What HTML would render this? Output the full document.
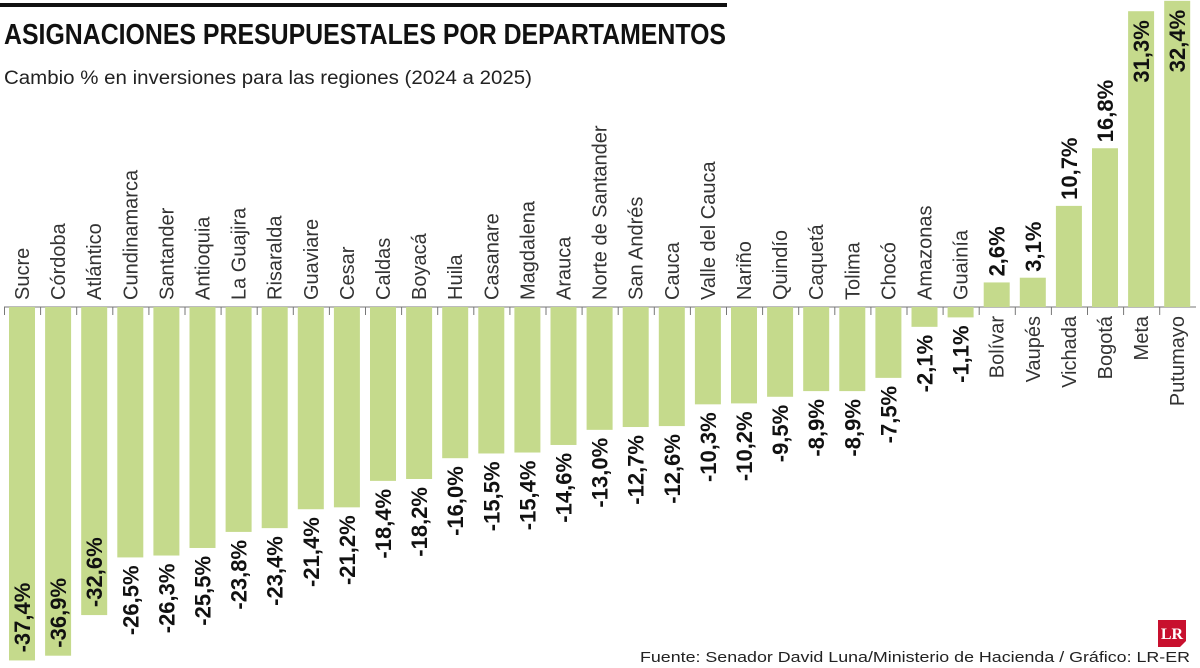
<!DOCTYPE html>
<html><head><meta charset="utf-8"><style>
html,body{margin:0;padding:0;background:#fff;}
svg{display:block;font-family:"Liberation Sans",sans-serif;}
</style></head><body>
<svg id="chart" width="1200" height="668" viewBox="0 0 1200 668">
  <rect x="0" y="3" width="727" height="4" fill="#111"/>
  <text x="4" y="44" font-size="29" font-weight="bold" fill="#111" textLength="722" lengthAdjust="spacingAndGlyphs">ASIGNACIONES PRESUPUESTALES POR DEPARTAMENTOS</text>
  <text x="4" y="84" font-size="19" fill="#222" textLength="528" lengthAdjust="spacingAndGlyphs">Cambio % en inversiones para las regiones (2024 a 2025)</text>
  <g id="plot"></g>
  <text x="1190" y="662" font-size="15" fill="#222" text-anchor="end" textLength="550" lengthAdjust="spacingAndGlyphs">Fuente: Senador David Luna/Ministerio de Hacienda / Gráfico: LR-ER</text>
  <g>
    <path d="M1158 620 h28 v21 l-6 6 h-22 z" fill="#c8102e"/>
    <text x="1172" y="639" font-size="16" font-weight="bold" fill="#fff" text-anchor="middle" font-family="Liberation Serif, serif">LR</text>
  </g>
</svg>
<script>
const departments = ["Sucre","Córdoba","Atlántico","Cundinamarca","Santander","Antioquia","La Guajira","Risaralda","Guaviare","Cesar","Caldas","Boyacá","Huila","Casanare","Magdalena","Arauca","Norte de Santander","San Andrés","Cauca","Valle del Cauca","Nariño","Quindío","Caquetá","Tolima","Chocó","Amazonas","Guainía","Bolívar","Vaupés","Vichada","Bogotá","Meta","Putumayo"];
const changes = [-37.4,-36.9,-32.6,-26.5,-26.3,-25.5,-23.8,-23.4,-21.4,-21.2,-18.4,-18.2,-16.0,-15.5,-15.4,-14.6,-13.0,-12.7,-12.6,-10.3,-10.2,-9.5,-8.9,-8.9,-7.5,-2.1,-1.1,2.6,3.1,10.7,16.8,31.3,32.4];
const valueLabels = changes.map(v => v.toFixed(1).replace('.', ',') + '%');

const NS = "http://www.w3.org/2000/svg";
const plot = document.getElementById('plot');
const baseY = 307, pxPerUnit = 9.45, step = 36.1, x0 = 9, barW = 26;
function xPos(i){ return x0 + i*step; }
function yPos(v){ return baseY - v*pxPerUnit; }
function mk(tag, attrs){ const e=document.createElementNS(NS,tag); for(const k in attrs) e.setAttribute(k,attrs[k]); plot.appendChild(e); return e; }

const axis = mk('line',{x1:4,x2:1196,y1:baseY,y2:baseY,stroke:'#777','stroke-width':1});



departments.forEach((name,i)=>{
  const v = changes[i];
  const x = xPos(i), cx = x + barW/2;
  const y = yPos(v);
  const tick = mk('line',{x1:x-4.5,x2:x-4.5,y1:baseY,y2:baseY+8,stroke:'#777','stroke-width':1});
  
  
  const bar = mk('rect',{x:x,y:Math.min(y,baseY),width:barW,height:Math.abs(y-baseY),fill:'#c5da8c'});
  
  
  const neg = v < 0;
  const ly = neg ? baseY-7 : baseY+9;
  const lab = mk('text',{transform:`translate(${cx+7},${ly}) rotate(-90)`,'font-size':20,fill:'#333','text-anchor':neg?'start':'end'});
  lab.textContent = name;
  
  
  let vy, anchor;
  if (neg) {
    if (v < -30) { vy = y-8; anchor='start'; } else { vy = y+8; anchor='end'; }
  } else {
    if (v > 30) { vy = y+9; anchor='end'; } else { vy = y-6; anchor='start'; }
  }
  const val = mk('text',{transform:`translate(${cx+8},${vy}) rotate(-90)`,'font-size':22,'font-weight':'bold',fill:'#111','text-anchor':anchor});
  val.textContent = valueLabels[i];
  
  
});
</script>
</body></html>
